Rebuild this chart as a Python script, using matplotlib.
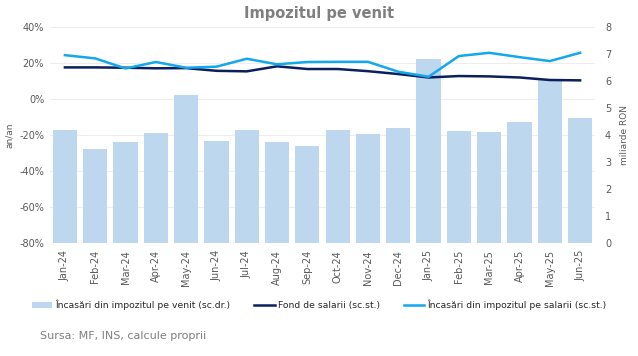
import matplotlib
matplotlib.use("Agg")
import matplotlib.pyplot as plt
import numpy as np
from matplotlib.ticker import FuncFormatter

months = ["Jan-24", "Feb-24", "Mar-24", "Apr-24", "May-24", "Jun-24", "Jul-24", "Aug-24", "Sep-24",
          "Oct-24", "Nov-24", "Dec-24", "Jan-25", "Feb-25", "Mar-25", "Apr-25", "May-25", "Jun-25"]
incasari_venit = [4.19, 3.48, 3.74, 4.07, 5.48, 3.78, 4.19, 3.74, 3.59,
                  4.19, 4.04, 4.26, 6.81, 4.15, 4.11, 4.48, 6.04, 4.63]
fond_salarii = [17.6, 17.6, 17.4, 17.1, 17.2, 15.7, 15.4, 18.2, 16.7,
                16.7, 15.5, 13.9, 12.0, 12.8, 12.6, 12.0, 10.6, 10.4]
impozit_salarii = [24.4, 22.6, 17.0, 20.6, 17.4, 18.0, 22.4, 19.3, 20.6,
                   20.7, 20.7, 15.2, 12.4, 23.9, 25.7, 23.3, 21.1, 25.7]

c_bar = "#BDD7EE"
c_dark = "#0B1F5C"
c_light = "#12A8EC"
c_text = "#595959"

fig = plt.figure(figsize=(6.38, 3.56), dpi=100)
ax = fig.add_axes([0.078, 0.317, 0.855, 0.607])
ax2 = ax.twinx()

x = np.arange(len(months))
bars = ax2.bar(x, incasari_venit, width=0.8, color=c_bar, zorder=1)
ax2.set_ylim(0, 8)
ax2.set_yticks(range(0, 9))

ax.set_zorder(ax2.get_zorder() + 1)
ax.patch.set_visible(False)
l1, = ax.plot(x, fond_salarii, color=c_dark, lw=1.8, zorder=3)
l2, = ax.plot(x, impozit_salarii, color=c_light, lw=1.8, zorder=3)
ax.set_ylim(-80, 40)
ax.set_yticks(range(-80, 41, 20))
ax.yaxis.set_major_formatter(FuncFormatter(lambda v, p: f"{int(v)}%"))
ax.set_xlim(-0.5, len(months) - 0.5)
ax.set_xticks(x)
ax.set_xticklabels(months, rotation=90, fontsize=6.3, color=c_text)

for a in (ax, ax2):
    for s in a.spines.values():
        s.set_visible(False)
    a.tick_params(length=0, colors=c_text, labelsize=7)
ax2.tick_params(axis="y", pad=7)
ax.tick_params(axis="y", pad=4)
ax.tick_params(axis="x", pad=5)

# gridlines on background axis so they sit behind bars
for v in range(-80, 41, 20):
    ax2.axhline((v + 80) / 15, color="#EDEDED", lw=0.8, zorder=0)

ax.set_ylabel("an/an", fontsize=6.5, color=c_text, labelpad=4)
ax2.set_ylabel("miliarde RON", fontsize=6.5, color=c_text, labelpad=6)

fig.text(0.5, 0.962, "Impozitul pe venit", ha="center", va="center",
         fontsize=10.5, fontweight="bold", color="#7F7F7F")

fig.legend([bars, l1, l2],
           ["Încasări din impozitul pe venit (sc.dr.)", "Fond de salarii (sc.st.)",
            "Încasări din impozitul pe salarii (sc.st.)"],
           loc="center", bbox_to_anchor=(0.5, 0.143), ncol=3, frameon=False,
           fontsize=6.7, handlelength=2.2, handleheight=0.5, columnspacing=2.6,
           handletextpad=0.3, labelcolor="#262626")

fig.text(0.063, 0.055, "Sursa: MF, INS, calcule proprii", fontsize=8, color="#7F7F7F",
         ha="left", va="center")

fig.savefig("out.png", dpi=100)
